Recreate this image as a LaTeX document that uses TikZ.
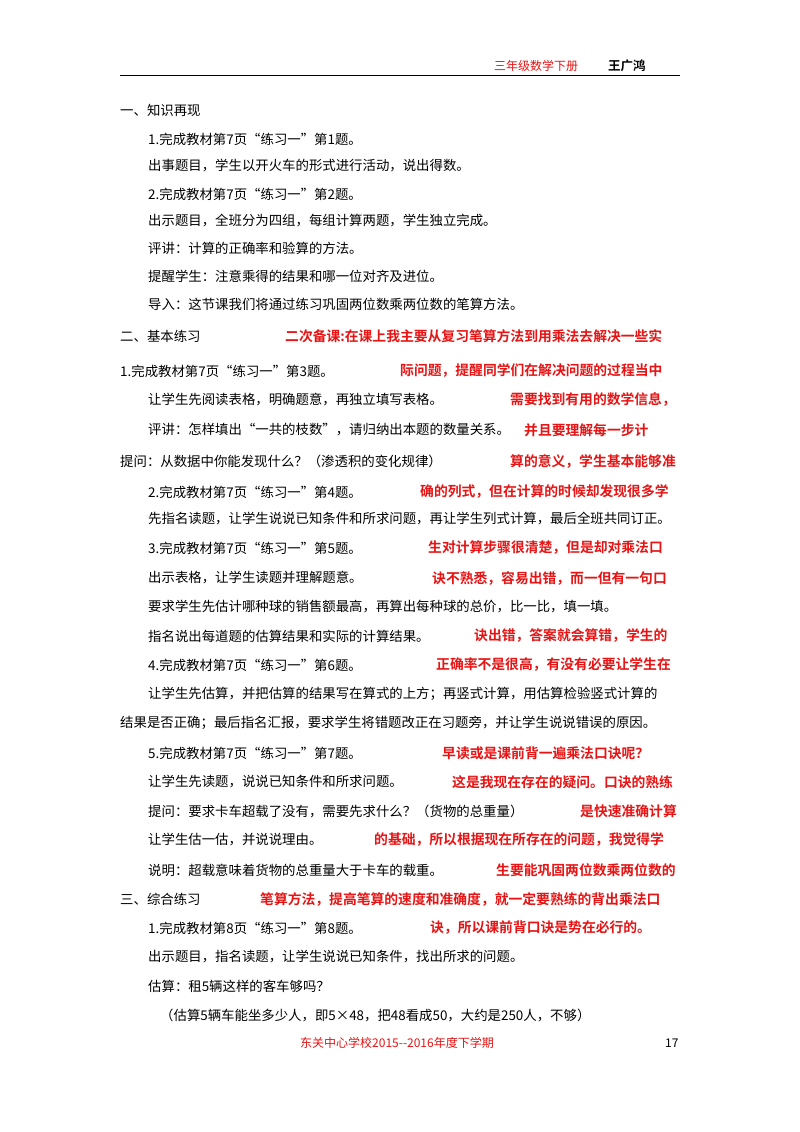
\documentclass[tikz,border=0pt]{standalone}
\usepackage{fontspec}
\setmainfont{Noto Sans CJK SC}
\newfontfamily\cjkb{Noto Sans CJK SC Bold}
\definecolor{rd}{RGB}{230,20,20}
\begin{document}
\begin{tikzpicture}[x=1pt,y=-1pt,
 t/.style={anchor=west,inner sep=0pt,font=\fontsize{13.4}{14}\selectfont},
 r/.style={t,text=rd,font=\fontsize{13.8}{14}\selectfont\cjkb}]
\useasboundingbox[fill=white] (0,0) rectangle (800,1132);
\draw[line width=0.8pt] (120,75) -- (680,75);
\node[t,text=rd,font=\fontsize{12}{13}\selectfont] (h1) at (494,66) {三年级数学下册};
\node[t,font=\fontsize{12.5}{13}\selectfont\cjkb] (h2) at (608,66) {王广鸿};
\node[t] (a1) at (120,110) {一、知识再现};
\node[t] (a2) at (148,139) {1.完成教材第7页“练习一”第1题。};
\node[t] (a3) at (148,166) {出事题目，学生以开火车的形式进行活动，说出得数。};
\node[t] (a4) at (148,194) {2.完成教材第7页“练习一”第2题。};
\node[t] (a5) at (148,221) {出示题目，全班分为四组，每组计算两题，学生独立完成。};
\node[t] (a6) at (148,248) {评讲：计算的正确率和验算的方法。};
\node[t] (a7) at (148,276) {提醒学生：注意乘得的结果和哪一位对齐及进位。};
\node[t] (a8) at (148,304) {导入：这节课我们将通过练习巩固两位数乘两位数的笔算方法。};
\node[t] (b1) at (120,336) {二、基本练习};
\node[r] (rb1) at (285,336) {二次备课:在课上我主要从复习笔算方法到用乘法去解决一些实};
\node[t] (b2) at (120,371) {1.完成教材第7页“练习一”第3题。};
\node[r] (rb2) at (400,371) {际问题，提醒同学们在解决问题的过程当中};
\node[t] (b3) at (148,400) {让学生先阅读表格，明确题意，再独立填写表格。};
\node[r] (rb3) at (510,400) {需要找到有用的数学信息，};
\node[t] (b4) at (148,430) {评讲：怎样填出“一共的枝数”，请归纳出本题的数量关系。};
\node[r] (rb4) at (524,430) {并且要理解每一步计};
\node[t] (b5) at (120,461) {提问：从数据中你能发现什么？（渗透积的变化规律）};
\node[r] (rb5) at (510,461) {算的意义，学生基本能够准};
\node[t] (b6) at (148,492) {2.完成教材第7页“练习一”第4题。};
\node[r] (rb6) at (420,492) {确的列式，但在计算的时候却发现很多学};
\node[t] (b7) at (148,519) {先指名读题，让学生说说已知条件和所求问题，再让学生列式计算，最后全班共同订正。};
\node[t] (b8) at (148,548) {3.完成教材第7页“练习一”第5题。};
\node[r] (rb8) at (428,548) {生对计算步骤很清楚，但是却对乘法口};
\node[t] (b9) at (148,578) {出示表格，让学生读题并理解题意。};
\node[r] (rb9) at (432,578) {诀不熟悉，容易出错，而一但有一句口};
\node[t] (b10) at (148,607) {要求学生先估计哪种球的销售额最高，再算出每种球的总价，比一比，填一填。};
\node[t] (b11) at (148,636) {指名说出每道题的估算结果和实际的计算结果。};
\node[r] (rb11) at (474,636) {诀出错，答案就会算错，学生的};
\node[t] (b12) at (148,665) {4.完成教材第7页“练习一”第6题。};
\node[r] (rb12) at (436,665) {正确率不是很高，有没有必要让学生在};
\node[t] (b13) at (148,694) {让学生先估算，并把估算的结果写在算式的上方；再竖式计算，用估算检验竖式计算的};
\node[t] (b14) at (120,723) {结果是否正确；最后指名汇报，要求学生将错题改正在习题旁，并让学生说说错误的原因。};
\node[t] (b15) at (148,753) {5.完成教材第7页“练习一”第7题。};
\node[r] (rb15) at (442,753) {早读或是课前背一遍乘法口诀呢？};
\node[t] (b16) at (148,782) {让学生先读题，说说已知条件和所求问题。};
\node[r] (rb16) at (452,782) {这是我现在存在的疑问。口诀的熟练};
\node[t] (b17) at (148,811) {提问：要求卡车超载了没有，需要先求什么？（货物的总重量）};
\node[r] (rb17) at (580,811) {是快速准确计算};
\node[t] (b18) at (148,840) {让学生估一估，并说说理由。};
\node[r] (rb18) at (374,840) {的基础，所以根据现在所存在的问题，我觉得学};
\node[t] (b19) at (148,870) {说明：超载意味着货物的总重量大于卡车的载重。};
\node[r] (rb19) at (496,870) {生要能巩固两位数乘两位数的};
\node[t] (c1) at (120,899) {三、综合练习};
\node[r] (rc1) at (260,899) {笔算方法，提高笔算的速度和准确度，就一定要熟练的背出乘法口};
\node[t] (c2) at (148,928) {1.完成教材第8页“练习一”第8题。};
\node[r] (rc2) at (430,928) {诀，所以课前背口诀是势在必行的。};
\node[t] (c3) at (148,957) {出示题目，指名读题，让学生说说已知条件，找出所求的问题。};
\node[t] (c4) at (148,986) {估算：租5辆这样的客车够吗？};
\node[t] (c5) at (160,1015) {（估算5辆车能坐多少人，即5×48，把48看成50，大约是250人，不够）};
\node[t,text=rd,font=\fontsize{12}{13}\selectfont] (f1) at (300,1043) {东关中心学校2015{-}{-}2016年度下学期};
\node[t,font=\fontsize{12}{13}\selectfont] (f2) at (665,1043) {17};
\end{tikzpicture}
\end{document}
